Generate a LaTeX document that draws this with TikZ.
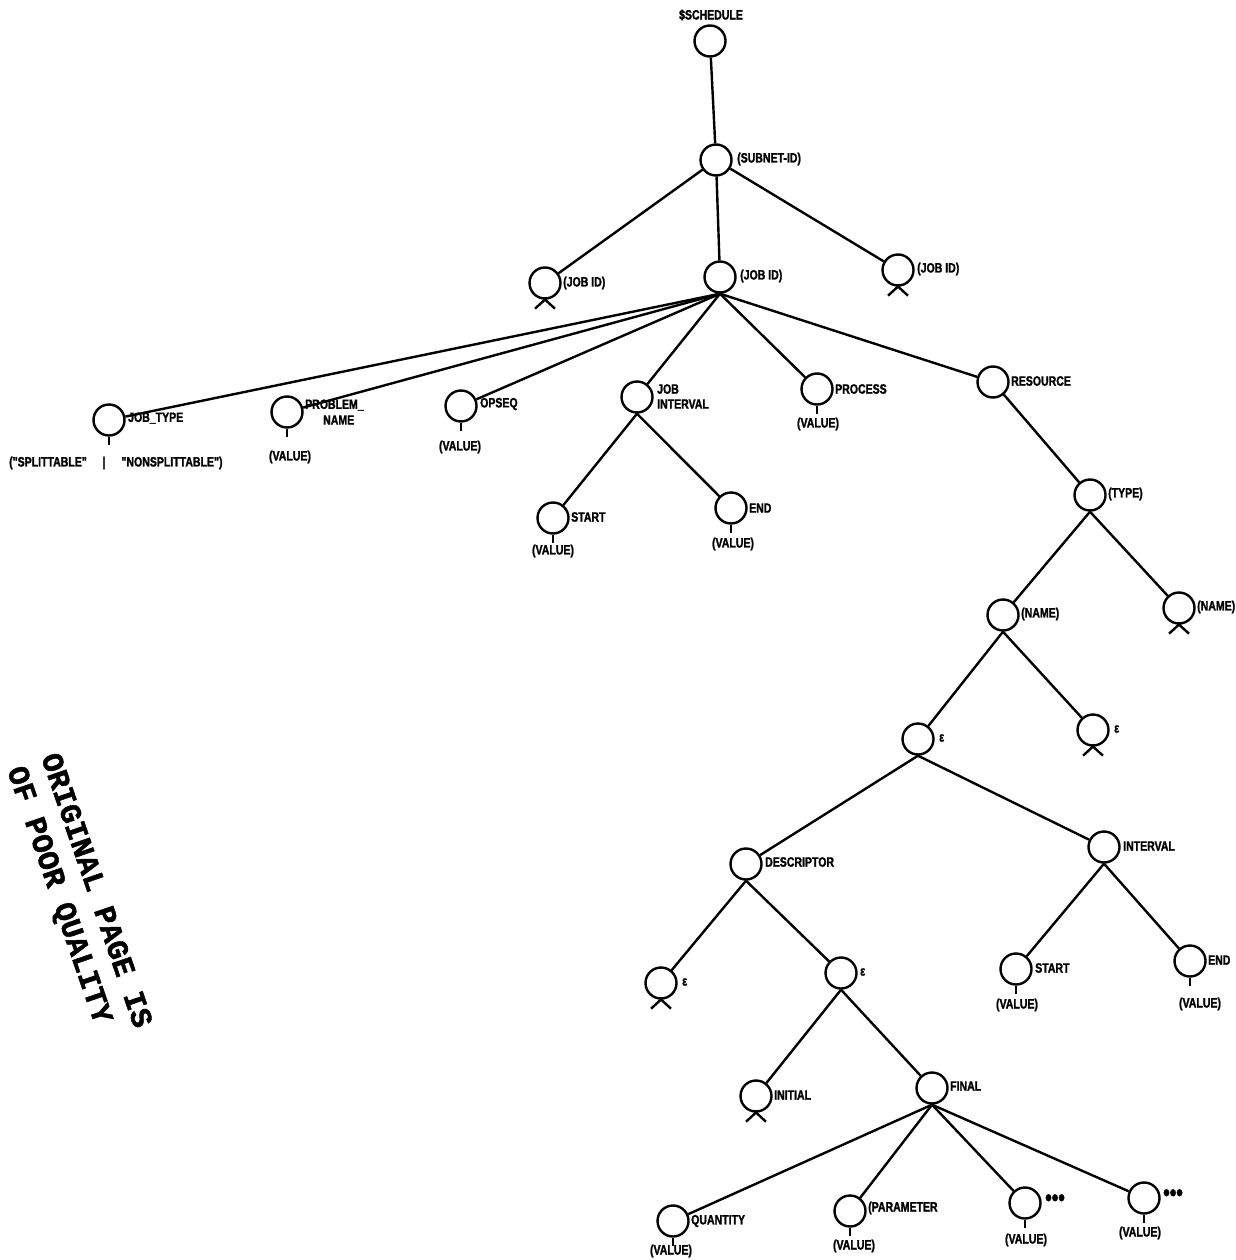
\documentclass[tikz,border=0pt]{standalone}
\usepackage{fontspec}
\newfontfamily\labfont{Liberation Sans}[FakeStretch=0.78,BoldFeatures={FakeBold=1.5}]
\newfontfamily\stampfont{Liberation Mono}[BoldFeatures={FakeBold=1.5}]
\newcommand\mystem[1]{\draw[ln] (#1.south) -- ++(0,8);}
\newcommand\myxmark[1]{\draw[ln] ([shift={(-10,9)}]#1.south) -- ([shift={(2,-2)}]#1.south);
  \draw[ln] ([shift={(10,9)}]#1.south) -- ([shift={(-2,-2)}]#1.south);}
\begin{document}
\begin{tikzpicture}[x=1pt,y=-1pt,
  nd/.style={circle,draw,line width=2.4pt,minimum size=31pt,inner sep=0pt},
  lab/.style={font=\labfont\bfseries\fontsize{13.5}{13.5}\selectfont,inner sep=0pt,anchor=west},
  val/.style={font=\labfont\bfseries\fontsize{13.5}{13.5}\selectfont,inner sep=0pt,anchor=center},
  dots/.style={font=\labfont\bfseries\fontsize{24}{24}\selectfont,inner sep=0pt,anchor=west},
  stamp/.style={font=\stampfont\bfseries\fontsize{30}{30}\selectfont,inner sep=0pt,anchor=base west,rotate=-71},
  ln/.style={line width=2.4pt}]
\useasboundingbox (0,0) rectangle (1235,1260);

% circles
\node[nd] (sched) at (710,41) {};
\node[nd] (subnet) at (716,160) {};
\node[nd] (jobA) at (545,283) {};
\node[nd] (jobB) at (720,277) {};
\node[nd] (jobC) at (898,270) {};
\node[nd] (jobtype) at (109,420) {};
\node[nd] (problem) at (287,412) {};
\node[nd] (opseq) at (461,406) {};
\node[nd] (jobint) at (637,397) {};
\node[nd] (process) at (817,389) {};
\node[nd] (resource) at (993,382) {};
\node[nd] (startA) at (553,518) {};
\node[nd] (endA) at (731,508) {};
\node[nd] (type) at (1090,495) {};
\node[nd] (nameL) at (1003,615) {};
\node[nd] (nameR) at (1179,608) {};
\node[nd] (epsA) at (918,739) {};
\node[nd] (epsB) at (1093,730) {};
\node[nd] (descr) at (746,864) {};
\node[nd] (interval) at (1104,847) {};
\node[nd] (epsC) at (661,983) {};
\node[nd] (epsD) at (841,973) {};
\node[nd] (startB) at (1016,969) {};
\node[nd] (endB) at (1190,961) {};
\node[nd] (initial) at (756,1096) {};
\node[nd] (final) at (932,1088) {};
\node[nd] (quantity) at (673,1221) {};
\node[nd] (param) at (850,1211) {};
\node[nd] (dotsA) at (1025,1203) {};
\node[nd] (dotsB) at (1144,1198) {};

% edges
\draw[ln] (sched) -- (subnet);
\draw[ln] (subnet) -- (jobA);
\draw[ln] (subnet) -- (jobB);
\draw[ln] (subnet) -- (jobC);
\foreach \c in {jobtype,problem,opseq,jobint,process,resource}
  {\draw[ln] (jobB.south) -- (\c);}
\draw[ln] (jobint.south) -- (startA);
\draw[ln] (jobint.south) -- (endA);
\draw[ln] (resource) -- (type);
\draw[ln] (type.south) -- (nameL);
\draw[ln] (type.south) -- (nameR);
\draw[ln] (nameL.south) -- (epsA);
\draw[ln] (nameL.south) -- (epsB);
\draw[ln] (epsA.south) -- (descr);
\draw[ln] (epsA.south) -- (interval);
\draw[ln] (descr.south) -- (epsC);
\draw[ln] (descr.south) -- (epsD);
\draw[ln] (interval.south) -- (startB);
\draw[ln] (interval.south) -- (endB);
\draw[ln] (epsD.south) -- (initial);
\draw[ln] (epsD.south) -- (final);
\foreach \c in {quantity,param,dotsA,dotsB}
  {\draw[ln] (final.south) -- (\c);}

% stems and repetition marks
\foreach \c in {jobtype,problem,opseq,process,startA,endA,startB,endB,quantity,param,dotsA,dotsB}
  {\mystem{\c}}
\foreach \c in {jobA,jobC,nameR,epsB,epsC,initial}
  {\myxmark{\c}}

% labels
\node[val] (lsched) at (711,15) {\$SCHEDULE};
\node[lab] (lsubnet) at (737,159) {(SUBNET-ID)};
\node[lab] (ljobA) at (563,283) {(JOB ID)};
\node[lab] (ljobB) at (740,276) {(JOB ID)};
\node[lab] (ljobC) at (917,269) {(JOB ID)};
\node[lab] (ljobtype) at (128,418) {JOB\_TYPE};
\node[val] (lsplit) at (48,463) {("SPLITTABLE"};
\node[val] (lbar) at (104,463) {|};
\node[val] (lnonsplit) at (172,463) {"NONSPLITTABLE")};
\node[lab] (lproblem) at (305,405) {PROBLEM\_};
\node[lab] (lproblem2) at (323,420) {NAME};
\node[val] (vproblem) at (290,457) {(VALUE)};
\node[lab] (lopseq) at (480,404) {OPSEQ};
\node[val] (vopseq) at (460,447) {(VALUE)};
\node[lab] (ljobint) at (657,389) {JOB};
\node[lab] (ljobint2) at (657,404) {INTERVAL};
\node[lab] (lprocess) at (835,389) {PROCESS};
\node[val] (vprocess) at (818,424) {(VALUE)};
\node[lab] (lresource) at (1011,381) {RESOURCE};
\node[lab] (lstartA) at (571,517) {START};
\node[val] (vstartA) at (553,551) {(VALUE)};
\node[lab] (lendA) at (749,508) {END};
\node[val] (vendA) at (733,544) {(VALUE)};
\node[lab] (ltype) at (1108,494) {(TYPE)};
\node[lab] (lnameL) at (1021,614) {(NAME)};
\node[lab] (lnameR) at (1197,607) {(NAME)};
\node[lab] (lepsA) at (939,738) {ε};
\node[lab] (lepsB) at (1114,729) {ε};
\node[lab] (ldescr) at (765,862) {DESCRIPTOR};
\node[lab] (linterval) at (1123,846) {INTERVAL};
\node[lab] (lepsC) at (682,982) {ε};
\node[lab] (lepsD) at (860,972) {ε};
\node[lab] (lstartB) at (1035,968) {START};
\node[val] (vstartB) at (1017,1005) {(VALUE)};
\node[lab] (lendB) at (1208,960) {END};
\node[val] (vendB) at (1200,1004) {(VALUE)};
\node[lab] (linitial) at (774,1095) {INITIAL};
\node[lab] (lfinal) at (950,1086) {FINAL};
\node[lab] (lquantity) at (691,1221) {QUANTITY};
\node[val] (vquantity) at (671,1251) {(VALUE)};
\node[lab] (lparam) at (868,1208) {(PARAMETER};
\node[val] (vparam) at (854,1246) {(VALUE)};
\node[dots] (ldotsA) at (1045,1200) {•••};
\node[val] (vdotsA) at (1026,1240) {(VALUE)};
\node[dots] (ldotsB) at (1163,1195) {•••};
\node[val] (vdotsB) at (1140,1233) {(VALUE)};

% stamp
\node[stamp] (st1) at (41,757) {ORIGINAL PAGE IS};
\node[stamp] (st2) at (7,770) {OF POOR QUALITY};
\end{tikzpicture}
\end{document}
